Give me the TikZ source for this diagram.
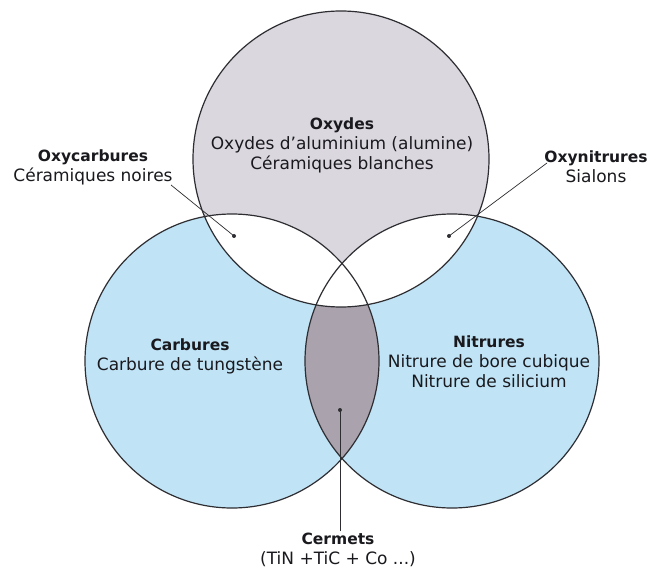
\documentclass[tikz,border=0pt]{standalone}
\usepackage{fontspec}
\setmainfont{DejaVu Sans}
\definecolor{cblue}{RGB}{192,228,246}
\definecolor{cgray}{RGB}{218,216,222}
\definecolor{clens}{RGB}{170,162,172}
\definecolor{cline}{RGB}{45,45,50}
\definecolor{ctext}{RGB}{25,25,30}
\newcommand{\hd}[1]{{\fontsize{15.5}{20}\selectfont\bfseries #1}}
\tikzset{
  ring/.style={circle, draw=cline, line width=1.2pt, minimum size=294pt, inner sep=0pt},
  lbl/.style={align=center, text=ctext, font=\fontsize{17}{20}\selectfont, inner sep=0pt},
  leader/.style={draw=cline, line width=0.7pt},
  dotmark/.style={circle, fill=cline, minimum size=4pt, inner sep=0pt}
}
\begin{document}
\begin{tikzpicture}[x=1pt,y=-1pt]
\useasboundingbox (0,0) rectangle (650,569);
\fill[white] (0,0) rectangle (650,569);
% fills
\fill[cblue] (232,361) circle[radius=147pt];
\fill[cblue] (452,361) circle[radius=147pt];
\fill[cgray] (341,159) circle[radius=148pt];
\begin{scope}
  \clip (341,159) circle[radius=148pt];
  \fill[white] (232,361) circle[radius=147pt];
  \fill[white] (452,361) circle[radius=147pt];
\end{scope}
\begin{scope}
  \clip (232,361) circle[radius=147pt];
  \clip (452,361) circle[radius=147pt];
  \fill[clens] (0,0) rectangle (650,569);
  \fill[white] (341,159) circle[radius=148pt];
\end{scope}
% outlines
\node[ring, minimum size=296pt] (oxydes) at (341,159) {};
\node[ring] (carbures) at (232,361) {};
\node[ring] (nitrures) at (452,361) {};
% labels
\node[lbl] (toxydes) at (342,145) {\hd{Oxydes}\\Oxydes d'aluminium (alumine)\\Céramiques blanches};
\node[lbl] (toxyc) at (93,167.5) {\hd{Oxycarbures}\\Céramiques noires};
\node[lbl] (toxyn) at (596,167) {\hd{Oxynitrures}\\Sialons};
\node[lbl] (tcarb) at (190,356) {\hd{Carbures}\\Carbure de tungstène};
\node[lbl] (tnitr) at (489,362) {\hd{Nitrures}\\Nitrure de bore cubique\\Nitrure de silicium};
\node[lbl] (tcerm) at (338,550) {\hd{Cermets}\\(TiN +TiC + Co ...)};
% dots and leaders
\node[dotmark] (d1) at (234,236) {};
\node[dotmark] (d2) at (449,236) {};
\node[dotmark] (d3) at (340,410) {};
\coordinate (l1) at (171,185);
\coordinate (l2) at (547,163);
\coordinate (l3) at (340,531);
\draw[leader] (l1) -- (d1.center);
\draw[leader] (l2) -- (d2.center);
\draw[leader] (l3) -- (d3.center);
\end{tikzpicture}
\end{document}
